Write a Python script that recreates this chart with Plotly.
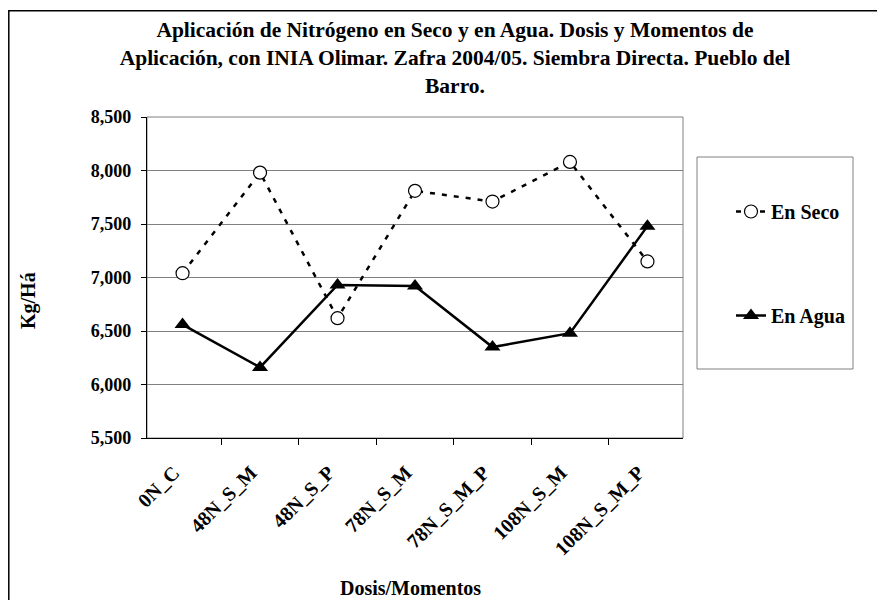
import plotly.graph_objects as go

categories = ["0N_C", "48N_S_M", "48N_S_P", "78N_S_M", "78N_S_M_P", "108N_S_M", "108N_S_M_P"]
en_seco = [7040, 7980, 6620, 7810, 7710, 8080, 7150]
en_agua = [6560, 6160, 6930, 6920, 6350, 6480, 7480]
y_ticks = [5500, 6000, 6500, 7000, 7500, 8000, 8500]

# page body has an 8px margin
OFF = 8
W, H = 885, 600
# plot area in screen pixels
L, R, T, B = 147, 683, 117, 438

def px(x):
    return (x - L) / (R - L)

def py(y):
    return (B - y) / (B - T)

FONT = "Liberation Serif, Times New Roman, serif"

fig = go.Figure()
fig.add_trace(go.Scatter(
    x=categories, y=en_seco, name="En Seco", mode="lines+markers",
    line=dict(color="black", width=2.5, dash="5px,7px"),
    marker=dict(symbol="circle", size=13, color="white", line=dict(color="black", width=1.2)),
    legendgroup="a",
))
fig.add_trace(go.Scatter(
    x=categories, y=en_agua, name="En Agua", mode="lines+markers",
    line=dict(color="black", width=2.5),
    marker=dict(symbol="triangle-up", size=14, color="black"),
    legendgroup="b",
))

shapes = [
    dict(type="rect", xref="x domain", yref="y domain", x0=0, x1=1, y0=0, y1=1,
         line=dict(color="#808080", width=1), layer="below"),
    dict(type="rect", xref="paper", yref="paper", x0=px(697), x1=px(853), y0=py(157), y1=py(369),
         line=dict(color="#808080", width=1)),
    dict(type="rect", xref="paper", yref="paper", x0=px(8.8), x1=px(910), y0=py(10.8), y1=py(630),
         line=dict(color="black", width=1.5)),
]

annotations = [
    dict(text="Kg/Há", xref="paper", yref="paper", x=px(28), y=py(301), showarrow=False,
         textangle=-90, font=dict(family=FONT, size=20, color="black", weight="bold"),
         xanchor="center", yanchor="middle"),
    dict(text="Dosis/Momentos", xref="paper", yref="paper", x=px(410), y=py(588), showarrow=False,
         font=dict(family=FONT, size=20, color="black", weight="bold"),
         xanchor="center", yanchor="middle"),
]

fig.update_layout(
    width=W, height=H,
    margin=dict(l=L - OFF, r=W - (R - OFF), t=T - OFF, b=H - (B - OFF), pad=0),
    paper_bgcolor="white", plot_bgcolor="white",
    font=dict(family=FONT, color="black"),
    title=dict(
        text="Aplicación de Nitrógeno en Seco y en Agua. Dosis y Momentos de<br>"
             "Aplicación, con INIA Olimar. Zafra 2004/05. Siembra Directa. Pueblo del<br>Barro.",
        x=(455 - OFF) / W, xanchor="center", y=1 - 29 / H, yanchor="top",
        font=dict(family=FONT, size=21.5, color="black", weight="bold"),
    ),
    xaxis=dict(
        type="category", tickson="boundaries", ticks="outside", ticklen=6, tickcolor="black",
        showline=True, linecolor="black", linewidth=1.2, showgrid=False,
        tickangle=-45, ticklabelstandoff=14, ticklabelshift=-9,
        tickfont=dict(family=FONT, size=20, color="black", weight="bold"),
    ),
    yaxis=dict(
        range=[5500, 8500], tickvals=y_ticks, tickformat=",", ticks="outside", ticklen=5,
        tickcolor="black", showline=True, linecolor="black", linewidth=1.2,
        showgrid=True, gridcolor="#808080", gridwidth=1, zeroline=False,
        ticklabelstandoff=6,
        tickfont=dict(family=FONT, size=18, color="black", weight="bold"),
    ),
    showlegend=True,
    legend=dict(
        x=px(731), y=py(192), xanchor="left", yanchor="top",
        bgcolor="rgba(0,0,0,0)", borderwidth=0, tracegroupgap=75,
        font=dict(family=FONT, size=20, color="black", weight="bold"),
    ),
    shapes=shapes,
    annotations=annotations,
)

fig.write_html("out.html")
